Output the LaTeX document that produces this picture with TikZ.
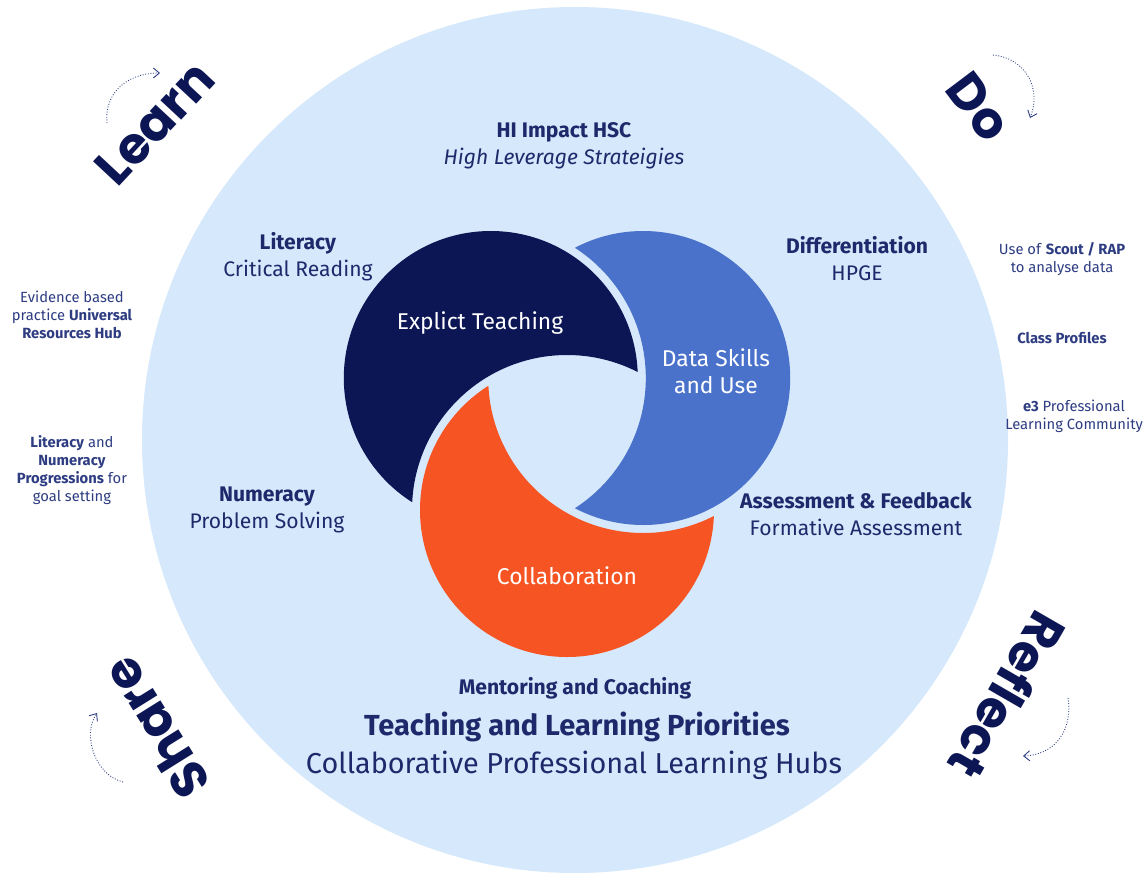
\documentclass[tikz,border=0pt]{standalone}
\usepackage{fontspec}
\setmainfont{Fira Sans}
\newfontfamily\bigwordfont{Poppins}
\usetikzlibrary{arrows.meta}

\definecolor{bgblue}{HTML}{D6E8FB}
\definecolor{navyC}{HTML}{0C1654}
\definecolor{blueC}{HTML}{4A72CB}
\definecolor{orangeC}{HTML}{F65423}
\definecolor{ink}{HTML}{1C2A6B}
\definecolor{softink}{HTML}{2E3D82}

% keep only what lies outside circle (#1) of radius #2
\newcommand\cutaway[2]{\clip (-50,-50) -- (-50,950) -- (1200,950) -- (1200,-50) -- cycle
  (#1) ++(#2,0) arc[start angle=0,end angle=360,radius=#2];}

\tikzset{
  lbl/.style={align=center, text=ink, font=\fontsize{12}{15.4}\selectfont},
  note/.style={align=center, text=softink, font=\fontsize{8.4}{10.2}\selectfont},
  inlbl/.style={align=center, text=white, font=\fontsize{13}{15.5}\selectfont},
  bigword/.style={text=navyC, font=\bigwordfont\bfseries\fontsize{29}{30}\selectfont},
  cycarrow/.style={draw=softink, line width=0.5pt, dash pattern=on 0.5pt off 1pt,
    -{Straight Barb[length=1.2mm,width=2mm]}},
}

\begin{document}
\begin{tikzpicture}[x=0.2mm,y=-0.2mm]
        \fill[white] (0,0) rectangle (1145,873);
        \useasboundingbox (0,0) rectangle (1145,873);

        \fill[bgblue] (575,440) circle (433);  %big circle

        \coordinate (cN) at (490.8,378);  %navy
        \coordinate (cB) at (643.2,378);  %blue
        \coordinate (cO) at (567,510);    %orange
        \coordinate (dN) at (567,485);
        \coordinate (dB) at (512.4,390.5);
        \coordinate (dO) at (621.6,390.5);

        %navy crescent
        \begin{scope}
            \cutaway{dN}{128}
            \cutaway{cO}{155}
            \fill[navyC] (cN) circle (147);
        \end{scope}
        %blue crescent
        \begin{scope}
            \cutaway{dB}{128}
            \cutaway{cN}{155}
            \fill[blueC] (cB) circle (147);
        \end{scope}
        %orange crescent
        \begin{scope}
            \cutaway{dO}{128}
            \cutaway{cB}{155}
            \fill[orangeC] (cO) circle (147);
        \end{scope}

        \node[inlbl] (expl) at (480,323) {Explict Teaching};
        \node[inlbl] (data) at (716,371) {Data Skills\\and Use};
        \node[inlbl] (collab) at (567,576) {Collaboration};

        %labels in the circle
        \node[lbl] (hsc) at (564,145.5) {\textbf{HI Impact HSC}\\\textit{High Leverage Strateigies}};
        \node[lbl] (lit) at (298,256.5) {\textbf{Literacy}\\Critical Reading};
        \node[lbl] (diff) at (857,258.5) {\textbf{Differentiation}\\HPGE};
        \node[lbl] (num) at (267,510) {\textbf{Numeracy}\\Problem Solving};
        \node[lbl] (assess) at (856,514) {\textbf{Assessment \& Feedback}\\Formative Assessment};
        \node[lbl] (mentor) at (575,688) {\textbf{Mentoring and Coaching}};
        \node[lbl, font=\fontsize{16.5}{18}\selectfont\bfseries] (prio) at (577,727) {Teaching and Learning Priorities};
        \node[lbl, font=\fontsize{16.4}{18}\selectfont] (hubs) at (574,765) {Collaborative Professional Learning Hubs};

        %side notes
        \node[note] (evid) at (72,315) {Evidence based\\practice \textbf{Universal}\\\textbf{Resources Hub}};
        \node[note] (prog) at (72,470) {\textbf{Literacy} and\\\textbf{Numeracy}\\\textbf{Progressions} for\\goal setting};
        \node[note] (scout) at (1062,259) {Use of \textbf{Scout / RAP}\\to analyse data};
        \node[note] (class) at (1062,338) {\textbf{Class Profiles}};
        \node[note] (plc) at (1074,416) {\textbf{e3} Professional\\Learning Community};

        %cycle words
        \node[bigword, rotate=47] (learn) at (155,123) {Learn};
        \node[bigword, rotate=-53] (do) at (979,107) {Do};
        \node[bigword, rotate=-120] (reflect) at (1008,696) {Reflect};
        \node[bigword, rotate=122] (share) at (156,728) {Share};

        %dotted arrows
        \coordinate (learnA) at (107,123);
        \coordinate (learnB) at (160,73);
        \draw[cycarrow] (learnA) .. controls (104,95) and (125,73) .. (learnB);
        \coordinate (doA) at (993,55);
        \coordinate (doB) at (1030,118);
        \draw[cycarrow] (doA) .. controls (1025,58) and (1042,88) .. (doB);
        \coordinate (reflA) at (1068,698);
        \coordinate (reflB) at (1023,756);
        \draw[cycarrow] (reflA) .. controls (1073,730) and (1055,755) .. (reflB);
        \coordinate (shareA) at (123,782);
        \coordinate (shareB) at (97,713);
        \draw[cycarrow] (shareA) .. controls (95,775) and (82,735) .. (shareB);
\end{tikzpicture}
\end{document}
